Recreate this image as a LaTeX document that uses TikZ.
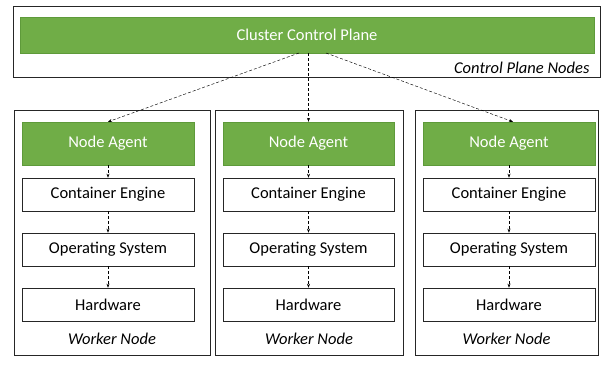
\documentclass[tikz,border=0pt]{standalone}
\usepackage{fontspec}
\setmainfont{Carlito}
\usetikzlibrary{arrows.meta}
\definecolor{officegreen}{HTML}{70AD47}
\definecolor{greenedge}{HTML}{5E9A3A}
\begin{document}
\begin{tikzpicture}[x=1pt,y=-1pt,
  every node/.style={font=\fontsize{16.5}{19}\selectfont},
  frame/.style={draw=black!85,line width=0.6pt},
  greenbox/.style={fill=officegreen,draw=greenedge,line width=0.4pt,text=white,inner sep=0pt},
  layerbox/.style={draw=black!85,fill=white,line width=0.6pt,inner sep=0pt},
  link/.style={densely dashed,line width=0.45pt,-{Stealth[length=4pt,width=3pt]}},
  lbl/.style={font=\fontsize{16.5}{19}\selectfont\itshape}]
\useasboundingbox (0,0) rectangle (602,365);
% control plane
\node[frame,minimum width=587pt,minimum height=71pt,inner sep=0pt] (cpn) at (306.5,41.5) {};
\node[greenbox,minimum width=574pt,minimum height=36pt] (ccp) at (307,35) {Cluster Control Plane};
\node[lbl,anchor=east] (cpl) at (593,68) {Control Plane Nodes};
% workers
\foreach \i/\x/\xl/\xr/\ilx/\irx in {1/112/14/210/22/194, 2/309/215/403/223/394, 3/506.5/415/598/423/595}{
  \node[frame,minimum width={\xr-\xl},minimum height=245pt,inner sep=0pt] (w\i) at ({(\xl+\xr)/2},232.5) {};
  \node[greenbox,minimum width={\irx-\ilx},minimum height=43pt] (na\i) at ({(\ilx+\irx)/2},143.5) {Node Agent};
  \node[layerbox,minimum width={\irx-\ilx},minimum height=33pt] (ce\i) at ({(\ilx+\irx)/2},194.5) {Container Engine};
  \node[layerbox,minimum width={\irx-\ilx},minimum height=33pt] (os\i) at ({(\ilx+\irx)/2},249.5) {Operating System};
  \node[layerbox,minimum width={\irx-\ilx},minimum height=33pt] (hw\i) at ({(\ilx+\irx)/2},304.5) {Hardware};
  \node[lbl] (wl\i) at ({(\xl+\xr)/2},339) {Worker Node};
  \draw[link] (na\i) -- (ce\i);
  \draw[link] (ce\i) -- (os\i);
  \draw[link] (os\i) -- (hw\i);
}
\coordinate (s1) at (299,53);
\coordinate (s3) at (326,53);
\draw[link] (s1) -- (na1.north -| 108,0);
\draw[link] (ccp.south -| na2.north) -- (na2.north);
\draw[link] (s3) -- (na3.north -| 513,0);
\end{tikzpicture}
\end{document}
